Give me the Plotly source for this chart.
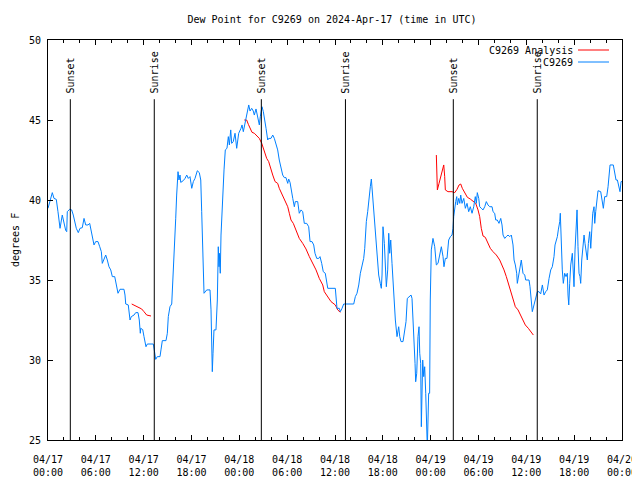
import pandas as pd
import plotly.graph_objects as go

BASE = pd.Timestamp("2024-04-17 00:00")

# Observed dew point (C9269): hours since 2024-04-17 00:00 UTC, degrees F
obs_hours = [0.00, 0.54, 0.75, 1.04, 1.25, 1.47, 1.51, 1.79, 2.01, 2.22, 2.35, 2.42, 2.72, 2.97, 3.17, 3.35, 3.55, 3.80, 4.01, 4.30,
             4.52, 4.73, 5.02, 5.23, 5.36, 5.56, 5.77, 5.98, 6.27, 6.49, 6.69, 6.81, 7.02, 7.24, 7.44, 7.65, 7.87, 8.07, 8.37, 8.57,
             8.78, 9.03, 9.53, 9.66, 9.75, 10.07, 10.29, 10.45, 10.79, 11.00, 11.29, 11.45, 11.58, 11.63, 11.88, 12.04, 12.29, 12.46, 13.21, 13.33,
             13.51, 13.71, 14.05, 14.17, 14.34, 14.80, 14.97, 15.09, 15.30, 15.52, 15.59, 15.72, 15.84, 16.02, 16.14, 16.31, 16.43, 16.56, 16.65, 16.97,
             17.19, 17.40, 17.60, 17.81, 18.03, 18.23, 18.44, 18.73, 18.98, 19.16, 19.28, 19.41, 19.48, 19.57, 19.91, 20.32, 20.45, 20.54, 20.61, 20.70,
             20.82, 21.07, 21.24, 21.36, 21.45, 21.49, 21.61, 21.70, 21.86, 22.08, 22.24, 22.45, 22.62, 22.75, 22.92, 23.04, 23.24, 23.46, 23.67, 23.92,
             24.21, 24.34, 24.50, 24.62, 24.84, 25.05, 25.18, 25.34, 25.55, 25.75, 25.88, 26.09, 26.22, 26.38, 26.51, 26.63, 26.84, 27.01, 27.13, 27.35,
             27.56, 27.68, 27.97, 28.19, 28.39, 28.60, 28.81, 29.01, 29.23, 29.44, 29.64, 29.85, 30.07, 30.19, 30.36, 30.52, 30.70, 30.90, 31.02, 31.32,
             31.52, 31.74, 31.95, 32.15, 32.45, 32.70, 32.87, 33.12, 33.33, 33.49, 33.71, 33.96, 34.12, 34.33, 34.53, 34.78, 34.96, 35.09, 36.04, 36.13,
             36.25, 36.54, 36.67, 36.88, 37.09, 38.35, 38.55, 38.76, 38.98, 39.18, 39.39, 39.60, 39.73, 39.80, 39.93, 40.10, 40.23, 40.43, 40.56, 40.73,
             40.93, 41.11, 41.27, 41.48, 41.68, 41.81, 41.90, 42.02, 42.19, 42.31, 42.44, 42.61, 42.74, 42.86, 42.99, 43.15, 43.36, 43.57, 43.78, 43.99,
             44.12, 44.28, 44.53, 44.74, 44.91, 45.07, 45.32, 45.54, 45.66, 45.79, 45.91, 46.04, 46.12, 46.25, 46.41, 46.54, 46.63, 46.75, 46.83, 46.91,
             47.00, 47.13, 47.25, 47.38, 47.50, 47.58, 47.75, 47.87, 47.95, 48.08, 48.29, 48.51, 48.71, 48.92, 49.13, 49.34, 49.55, 49.67, 49.84, 50.05,
             50.26, 50.47, 50.68, 50.80, 50.89, 51.02, 51.14, 51.27, 51.35, 51.52, 51.65, 51.77, 51.93, 52.15, 52.35, 52.56, 52.77, 52.97, 53.19, 53.40,
             53.60, 53.73, 53.85, 54.03, 54.15, 54.35, 54.57, 54.78, 54.98, 55.19, 55.41, 55.70, 55.82, 56.03, 56.16, 56.36, 56.57, 56.79, 56.95, 57.08,
             57.29, 57.49, 57.70, 57.92, 58.12, 58.33, 58.46, 58.62, 58.79, 58.87, 59.04, 59.21, 59.37, 59.58, 59.80, 59.92, 60.34, 60.46, 60.63, 60.75,
             60.96, 61.18, 61.38, 61.59, 61.80, 62.01, 62.22, 62.43, 62.63, 62.85, 63.06, 63.26, 63.47, 63.60, 63.76, 63.89, 64.01, 64.19, 64.26, 64.39,
             64.51, 64.64, 64.81, 64.98, 65.14, 65.23, 65.32, 65.44, 65.57, 65.77, 65.90, 65.98, 66.11, 66.27, 66.36, 66.48, 66.61, 66.73, 66.82, 66.95,
             67.11, 67.24, 67.36, 67.52, 67.65, 67.78, 67.95, 68.08, 68.20, 68.33, 68.49, 68.58, 68.70, 68.83, 68.99, 69.33, 69.53, 69.66, 69.83, 70.08,
             70.25, 70.37, 70.50, 70.91, 71.09, 71.25, 71.42, 71.59, 71.75, 71.88, 72.00]
obs_values = [39.48, 40.46, 40.10, 40.04, 39.27, 38.54, 38.23, 39.06, 38.56, 38.10, 38.02, 39.27, 39.42, 39.38, 39.06, 38.54, 38.23, 37.96, 38.23, 38.27,
              38.85, 38.44, 38.44, 38.54, 38.23, 37.81, 37.19, 37.40, 37.40, 37.08, 36.77, 36.04, 36.25, 36.56, 36.25, 35.83, 35.63, 35.21, 35.21, 34.58,
              34.17, 34.42, 34.42, 34.06, 33.50, 33.44, 32.50, 32.71, 32.81, 32.96, 32.96, 32.50, 31.67, 31.98, 31.90, 31.46, 30.83, 31.00, 31.00, 30.63,
              30.04, 30.21, 30.21, 30.63, 31.21, 31.21, 31.67, 32.71, 33.33, 33.50, 34.17, 35.52, 37.19, 38.86, 40.31, 41.77, 41.25, 41.56, 41.10, 41.21,
              41.35, 41.56, 41.35, 41.46, 40.73, 41.15, 41.35, 41.83, 41.71, 41.25, 39.27, 37.50, 35.94, 34.17, 34.38, 34.38, 33.13, 30.63, 29.27, 30.42,
              31.88, 31.88, 33.75, 37.08, 35.83, 36.67, 35.42, 37.81, 39.79, 41.88, 43.13, 43.23, 43.96, 43.44, 44.38, 43.54, 43.65, 44.17, 43.23, 44.17,
              44.48, 44.69, 44.27, 44.58, 44.90, 45.63, 45.94, 45.56, 45.73, 45.56, 45.31, 45.69, 45.31, 44.90, 44.69, 45.21, 45.83, 45.52, 45.21, 44.48,
              43.75, 43.85, 43.85, 44.06, 43.85, 43.54, 43.13, 42.50, 42.08, 41.56, 41.40, 41.40, 41.04, 41.31, 41.10, 40.52, 40.10, 39.58, 39.90, 39.90,
              39.17, 39.38, 39.27, 38.54, 38.54, 38.33, 37.40, 37.40, 37.19, 36.67, 36.35, 36.35, 36.46, 36.04, 35.52, 35.42, 34.90, 34.48, 34.48, 34.06,
              33.23, 33.23, 33.02, 33.23, 33.50, 33.50, 33.96, 34.17, 34.69, 35.42, 35.83, 36.35, 36.98, 37.71, 38.65, 39.27, 40.00, 40.83, 41.31, 40.10,
              38.96, 38.02, 36.46, 35.31, 34.79, 34.48, 35.31, 38.33, 37.29, 35.83, 34.58, 35.63, 37.92, 36.67, 37.50, 36.04, 34.06, 32.50, 31.46, 32.08,
              31.46, 31.15, 31.15, 31.77, 32.40, 33.85, 33.96, 34.06, 33.85, 32.71, 31.67, 29.79, 28.64, 29.17, 31.46, 32.08, 30.42, 29.79, 25.83, 27.50,
              30.00, 28.96, 29.58, 27.92, 24.50, 24.50, 27.92, 27.92, 33.75, 36.88, 37.60, 37.08, 35.94, 36.04, 36.56, 37.08, 36.46, 35.83, 36.35, 36.35,
              37.50, 37.71, 37.81, 38.23, 38.96, 39.69, 39.90, 40.21, 39.69, 40.10, 39.79, 40.31, 39.79, 40.10, 39.48, 39.79, 39.27, 39.58, 39.17, 39.58,
              40.21, 39.79, 40.46, 40.10, 39.58, 39.48, 39.38, 39.58, 39.90, 39.69, 39.58, 39.58, 39.27, 39.17, 38.75, 38.75, 38.54, 38.85, 38.44, 37.81,
              37.60, 37.71, 37.81, 37.71, 37.81, 37.19, 36.25, 35.94, 35.42, 34.79, 35.31, 36.04, 36.25, 35.42, 35.31, 35.00, 35.00, 34.58, 33.65, 33.02,
              33.44, 33.85, 34.27, 34.27, 34.13, 34.69, 34.06, 34.27, 34.38, 35.10, 35.63, 35.83, 36.46, 37.19, 37.50, 37.71, 38.13, 38.65, 39.17, 36.88,
              35.63, 34.79, 35.42, 35.21, 35.42, 34.06, 33.44, 34.79, 35.94, 36.67, 35.21, 34.58, 36.88, 38.54, 39.38, 37.08, 35.42, 35.21, 34.79, 36.25,
              37.29, 37.81, 37.29, 36.67, 36.25, 37.29, 38.02, 36.98, 37.92, 39.17, 39.58, 38.54, 39.27, 39.90, 40.58, 40.52, 39.79, 39.48, 40.21, 40.21,
              40.83, 41.67, 42.19, 42.19, 41.56, 41.25, 41.25, 40.83, 40.52, 41.15, 41.15]

# Analysis dew point (C9269 Analysis); None marks gaps between segments
ana_hours = [10.50, 11.13, 11.75, 12.04, 12.38, 12.92, None,
             24.62, 24.92, 25.13, 25.34, 25.59, 25.88, 26.18, 26.51, 26.81, 27.01, 27.22, 27.43, 27.68, 27.89,
             28.19, 28.48, 28.81, 29.01, 29.32, 29.64, 29.85, 30.07, 30.27, 30.48, 30.77, 31.11, 31.52, 31.95,
             32.36, 32.78, 33.20, 33.62, 34.03, 34.46, 34.66, 35.09, 35.50, 36.04, 36.34, 36.67, None,
             48.71, 48.84, 49.05, 49.26, 49.46, 49.64, 49.76, 49.84, 50.17, 50.68, 51.02, 51.31, 51.56, 51.77,
             51.97, 52.27, 52.60, 52.97, 53.31, 53.65, 53.94, 54.15, 54.35, 54.57, 54.85, 55.19, 55.48, 55.82,
             56.24, 56.66, 56.95, 57.20, 57.49, 57.79, 58.04, 58.33, 58.62, 58.96, 59.25, 59.58, 59.87, 60.25, 60.88]
ana_values = [33.50, 33.33, 33.19, 33.02, 32.81, 32.75, None,
              45.00, 45.00, 44.73, 44.48, 44.23, 44.17, 44.02, 43.85, 43.54, 43.23, 42.92, 42.60, 42.40, 41.98,
              41.56, 41.15, 41.04, 40.73, 40.42, 40.10, 39.90, 39.58, 39.17, 38.75, 38.54, 38.13, 37.60, 37.29,
              36.94, 36.46, 36.04, 35.63, 35.10, 34.69, 34.27, 33.96, 33.65, 33.44, 33.13, 32.98, None,
              42.81, 40.63, 41.04, 41.46, 41.77, 42.19, 41.46, 40.63, 40.52, 40.52, 40.46, 40.67, 40.94, 41.00,
              40.73, 40.42, 40.17, 40.06, 39.90, 39.79, 39.38, 38.96, 38.23, 37.75, 37.67, 37.29, 36.98, 36.77,
              36.56, 36.25, 35.94, 35.63, 35.21, 34.69, 34.17, 33.75, 33.33, 33.13, 32.81, 32.40, 32.19, 31.98, 31.56]

# Sun events (hours since start)
sun_hours = [2.80, 13.33, 26.76, 37.31, 50.84, 61.37]
sun_labels = ["Sunset", "Sunrise", "Sunset", "Sunrise", "Sunset", "Sunrise"]

tick_hours = list(range(0, 73, 6))
tick_labels = ["04/17<br>00:00", "04/17<br>06:00", "04/17<br>12:00", "04/17<br>18:00",
               "04/18<br>00:00", "04/18<br>06:00", "04/18<br>12:00", "04/18<br>18:00",
               "04/19<br>00:00", "04/19<br>06:00", "04/19<br>12:00", "04/19<br>18:00",
               "04/20<br>00:00"]
y_ticks = [25, 30, 35, 40, 45, 50]

TITLE = "Dew Point for C9269 on 2024-Apr-17 (time in UTC)"
FONT = "DejaVu Sans Mono"
RED = "#ff0000"
BLUE = "#0080ff"

# page body has an 8px margin; size the figure so the plot lands where the reference has it
PAGE_OFF = 8
W, H = 640 - PAGE_OFF, 480 - PAGE_OFF
PL, PT = 48, 40           # plot area left/top in window pixels
PW, PH = 574, 400         # plot area size


def to_time(hours):
    return [None if h is None else BASE + pd.Timedelta(hours=h) for h in hours]


def px_x(x):
    return (x - PL) / PW


def px_y(y):
    return 1 - (y - PT) / PH


fig = go.Figure()
fig.add_trace(go.Scatter(x=to_time(ana_hours), y=ana_values, mode="lines",
                         line=dict(color=RED, width=1), name="C9269 Analysis",
                         connectgaps=False, showlegend=False))
fig.add_trace(go.Scatter(x=to_time(obs_hours), y=obs_values, mode="lines",
                         line=dict(color=BLUE, width=1), name="C9269", showlegend=False))

for h, lab in zip(sun_hours, sun_labels):
    t = BASE + pd.Timedelta(hours=h)
    fig.add_shape(type="line", x0=t, x1=t, y0=25, y1=46.3, xref="x", yref="y",
                  line=dict(color="black", width=1))
    fig.add_annotation(x=t, y=46.55, xref="x", yref="y", text=lab, textangle=-90,
                       showarrow=False, xanchor="center", yanchor="bottom",
                       font=dict(family=FONT, size=10, color="black"))

# manual gnuplot-style legend (text, then sample line after it)
legend_items = [("C9269 Analysis", RED), ("C9269", BLUE)]
for i, (name, col) in enumerate(legend_items):
    yp = px_y(50 + 12 * i)
    fig.add_annotation(x=px_x(575), y=yp, xref="paper", yref="paper",
                       text=name, showarrow=False, xanchor="right", yanchor="middle",
                       font=dict(family=FONT, size=10, color="black"))
    fig.add_shape(type="line", xref="paper", yref="paper",
                  x0=px_x(578), x1=px_x(609), y0=yp, y1=yp,
                  line=dict(color=col, width=1))

fig.add_annotation(x=px_x(15), y=0.5, xref="paper", yref="paper",
                   text="degrees F", textangle=-90, showarrow=False,
                   xanchor="center", yanchor="middle",
                   font=dict(family=FONT, size=10, color="black"))

fig.update_layout(
    width=W, height=H,
    margin=dict(l=PL - PAGE_OFF, r=W - (PL - PAGE_OFF) - PW, t=PT - PAGE_OFF,
                b=H - (PT - PAGE_OFF) - PH, autoexpand=False),
    paper_bgcolor="white", plot_bgcolor="white",
    font=dict(family=FONT, size=10, color="black"),
    title=dict(text=TITLE, x=(332 - PAGE_OFF) / W, xanchor="center",
               y=1 - (19 - PAGE_OFF) / H, yanchor="middle",
               font=dict(family=FONT, size=10, color="black")),
    showlegend=False,
)
fig.update_xaxes(
    range=[BASE, BASE + pd.Timedelta(hours=72)],
    tickvals=to_time(tick_hours), ticktext=tick_labels,
    ticks="inside", ticklen=5, tickcolor="black", mirror="allticks",
    showline=True, linecolor="black", linewidth=1, showgrid=False, zeroline=False,
    minor=dict(ticks="inside", ticklen=3, tickcolor="black", dtick=2 * 3600 * 1000, showgrid=False),
    ticklabelstandoff=10,
    tickfont=dict(family=FONT, size=10, color="black"),
)
fig.update_yaxes(
    range=[25, 50], tickvals=y_ticks,
    ticks="inside", ticklen=5, tickcolor="black", mirror="allticks",
    showline=True, linecolor="black", linewidth=1, showgrid=False, zeroline=False,
    ticklabelstandoff=4,
    tickfont=dict(family=FONT, size=10, color="black"),
)

fig.write_html("out.html")
